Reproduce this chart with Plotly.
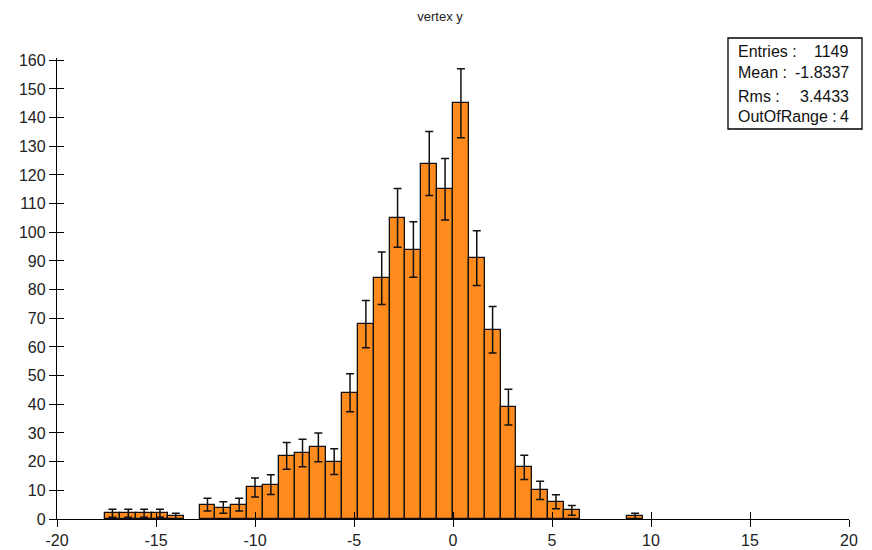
import numpy as np
import plotly.graph_objects as go

# Histogram definition: 50 bins from -20 to 20 (width 0.8)
bin_low = -20.0
bin_width = 0.8
counts = [0, 0, 0, 2, 2, 2, 2, 1, 0, 5,
          4, 5, 11, 12, 22, 23, 25, 20, 44, 68,
          84, 105, 94, 124, 115, 145, 91, 66, 39, 18,
          10, 6, 3, 0, 0, 0, 1, 0, 0, 0,
          0, 0, 0, 0, 0, 0, 0, 0, 0, 0]
title_text = "vertex y"
stat_labels = ["Entries :", "Mean :", "Rms :", "OutOfRange :"]
stat_values = ["1149", "-1.8337", "3.4433", "4"]
x_ticks = [-20, -15, -10, -5, 0, 5, 10, 15, 20]
x_ticktext = ["-20", "-15", "-10", "-5", "0", "5", "10", "15", "20"]
y_ticks = list(range(0, 161, 10))

centers = [bin_low + bin_width * (i + 0.5) for i in range(len(counts))]
errors = np.sqrt(np.array(counts, dtype=float))

# keep only filled bins
xs = [c for c, n in zip(centers, counts) if n > 0]
ys = [n for n in counts if n > 0]
es = [e for e, n in zip(errors, counts) if n > 0]

fig = go.Figure()
fig.add_trace(go.Bar(
    x=xs, y=ys, width=bin_width,
    marker=dict(color="#FF8B1E", line=dict(color="#111111", width=1.3)),
    error_y=dict(type="data", array=es, visible=True, color="#111111",
                 thickness=1.5, width=4),
    showlegend=False, hoverinfo="x+y",
))
# invisible trace on overlay axes (for crossing ticks)
fig.add_trace(go.Scatter(x=[0], y=[0], xaxis="x2", yaxis="y2", mode="markers",
                         marker=dict(opacity=0), showlegend=False, hoverinfo="skip"))

font = "Liberation Sans, Arial, sans-serif"
common_axis = dict(showgrid=False, zeroline=False, showline=True, linecolor="black",
                   linewidth=1.3, tickcolor="black", tickwidth=1.3, ticklen=7,
                   automargin=False)

# page body adds an 8px offset; plot area spans x 57..849, y 58..519 on screen
W, H = 864, 542
L, R, T, B = 49, 23, 50, 31
PW, PH = W - L - R, H - T - B

fig.update_layout(
    template="none",
    width=W, height=H,
    margin=dict(l=L, r=R, t=T, b=B, autoexpand=False),
    paper_bgcolor="white", plot_bgcolor="white",
    bargap=0,
    title=dict(text=title_text, x=0.5, xanchor="center", y=1 - 4 / H, yanchor="top",
               font=dict(family=font, size=13, color="#222222")),
    font=dict(family=font, size=16, color="#222222"),
    xaxis=dict(range=[-20, 20], tickvals=x_ticks, ticktext=x_ticktext,
               ticks="outside", **common_axis),
    yaxis=dict(range=[0, 160.8], tickvals=y_ticks, ticks="outside", **common_axis),
    xaxis2=dict(range=[-20, 20], tickvals=x_ticks, ticks="inside", overlaying="x",
                side="bottom", showticklabels=False, anchor="y2", **common_axis),
    yaxis2=dict(range=[0, 160.8], tickvals=y_ticks, ticks="inside", overlaying="y",
                side="left", showticklabels=False, anchor="x2", **common_axis),
)

def px(xs_):
    return (xs_ - 8 - L) / PW

def py(ys_):
    return (H - B - (ys_ - 8)) / PH

# statistics box
fig.add_shape(type="rect", xref="paper", yref="paper",
              x0=px(728), x1=px(862), y0=py(129), y1=py(38),
              line=dict(color="black", width=1.3), fillcolor="white", layer="above")
line_y = [51, 73, 96, 117]
for lab, val, yy in zip(stat_labels, stat_values, line_y):
    fig.add_annotation(text=lab, xref="paper", yref="paper", x=px(736), y=py(yy),
                       xanchor="left", yanchor="middle", showarrow=False,
                       font=dict(family=font, size=16, color="#111111"))
    fig.add_annotation(text=val, xref="paper", yref="paper", x=px(851), y=py(yy),
                       xanchor="right", yanchor="middle", showarrow=False,
                       font=dict(family=font, size=16, color="#111111"))

fig.write_html("out.html")
